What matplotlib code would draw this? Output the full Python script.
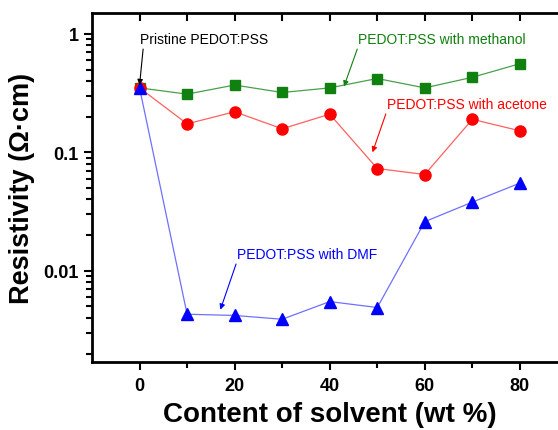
import matplotlib
matplotlib.use("Agg")
import matplotlib.pyplot as plt
from matplotlib.ticker import LogLocator, NullFormatter, FixedLocator

plt.rcParams['font.family'] = ['Liberation Sans', 'DejaVu Sans']

content = [0, 10, 20, 30, 40, 50, 60, 70, 80]
methanol = [0.35, 0.31, 0.37, 0.32, 0.35, 0.42, 0.35, 0.43, 0.56]
acetone = [0.35, 0.174, 0.22, 0.158, 0.21, 0.073, 0.065, 0.19, 0.152]
dmf = [0.35, 0.0043, 0.0042, 0.0039, 0.0055, 0.0049, 0.026, 0.038, 0.055]

fig = plt.figure(figsize=(5.58, 4.31), dpi=100)
ax = fig.add_axes([0.1649, 0.1578, 0.852, 0.8097])

ax.plot(content, methanol, '-s', color='#4aa04a', mfc='#108010', mec='#108010', ms=7, lw=0.9)
ax.plot(content, acetone, '-o', color='#ff6060', mfc='#ff0000', mec='#ff0000', ms=8, lw=0.9)
ax.plot(content, dmf, '-^', color='#7070ff', mfc='#0000ff', mec='#0000ff', ms=8, lw=0.9)

ax.set_yscale('log')
ax.set_xlim(-10, 90)
ax.set_ylim(0.0017, 1.5)

ax.yaxis.set_minor_locator(LogLocator(base=10, subs=range(2, 10)))
ax.yaxis.set_minor_formatter(NullFormatter())
ax.set_yticks([0.01, 0.1, 1])
ax.set_yticklabels(['0.01', '0.1', '1'])
ax.xaxis.set_major_locator(FixedLocator([0, 20, 40, 60, 80]))
ax.xaxis.set_minor_locator(FixedLocator([10, 30, 50, 70]))

for s in ['left', 'top', 'bottom']:
    ax.spines[s].set_linewidth(2)
ax.spines['right'].set_visible(False)

ax.tick_params(axis='both', which='both', width=1.5, labelsize=13)
ax.tick_params(axis='y', which='major', length=6, direction='out')
ax.tick_params(axis='y', which='minor', length=4, direction='out')
ax.tick_params(axis='x', which='major', length=6, direction='out', pad=5)
ax.tick_params(axis='x', which='minor', length=4, direction='out')
for lab in ax.get_xticklabels() + ax.get_yticklabels():
    lab.set_fontweight('bold')

# top ticks pointing inward at every 10
ax2 = ax.twiny()
ax2.set_xlim(ax.get_xlim())
ax2.set_xticks(content)
ax2.tick_params(axis='x', direction='in', length=6, width=1.5, labeltop=False)
for s in ax2.spines.values():
    s.set_visible(False)

ax.set_xlabel('Content of solvent (wt %)', fontsize=20, fontweight='bold', labelpad=5)
ax.set_ylabel('Resistivity (\u03a9\u00b7cm)', fontsize=19.5, fontweight='bold', labelpad=6)

arw = dict(arrowstyle='-|>', lw=0.8, mutation_scale=8, shrinkA=0, shrinkB=0)
ax.annotate('Pristine PEDOT:PSS', xy=(0, 0.37), xytext=(0, 0.9),
            fontsize=10, color='black', ha='left', va='center',
            arrowprops=dict(arw, color='black', relpos=(0.03, 0)))
ax.annotate('PEDOT:PSS with methanol', xy=(43, 0.36), xytext=(46, 0.9),
            fontsize=10, color='#108010', ha='left', va='center',
            arrowprops=dict(arw, color='#108010', relpos=(0.0, 0.0)))
ax.annotate('PEDOT:PSS with acetone', xy=(49, 0.1), xytext=(52, 0.255),
            fontsize=10, color='#ff0000', ha='left', va='center',
            arrowprops=dict(arw, color='#ff0000', relpos=(0.0, 0.0)))
ax.annotate('PEDOT:PSS with DMF', xy=(17, 0.0047), xytext=(20.5, 0.0138),
            fontsize=10, color='#0000ff', ha='left', va='center',
            arrowprops=dict(arw, color='#0000ff', relpos=(0.0, 0.0)))

fig.savefig('out.png', dpi=100)
